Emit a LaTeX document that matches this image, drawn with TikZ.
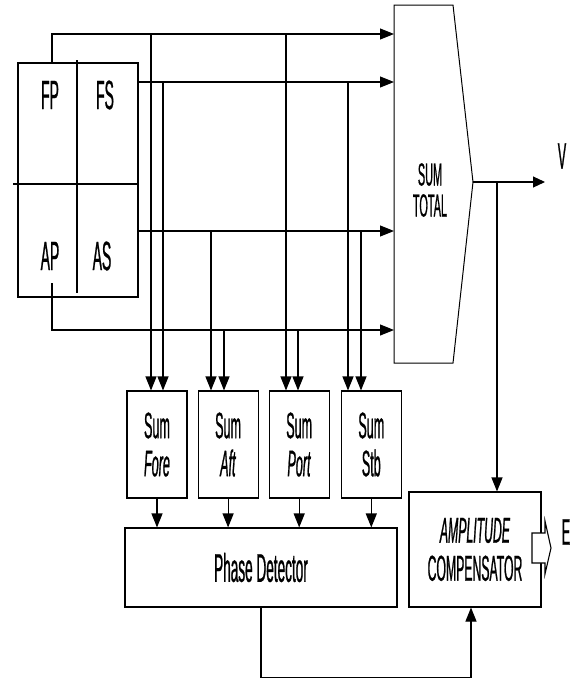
\documentclass[tikz,border=0pt]{standalone}
\usepackage{fontspec}
\setmainfont{Liberation Sans}[FakeStretch=0.34,FakeBold=0.6]
\usetikzlibrary{arrows.meta,positioning,calc}
\tikzset{
  wire/.style={line width=1.1pt},
  feed/.style={wire,-{Triangle[length=14pt,width=11pt]}},
  blk/.style={draw,line width=1.1pt,inner sep=0pt,align=center},
  sumbox/.style={blk,minimum width=60,minimum height=107,font=\fontsize{37}{38}\selectfont},
  quadlbl/.style={inner sep=0pt,font=\fontsize{41}{42}\selectfont},
}
\begin{document}
\begin{tikzpicture}[x=1pt,y=-1pt]
\useasboundingbox (0,0) rectangle (572,680);

% hydrophone quadrants
\node[blk,minimum width=120,minimum height=234] (quad) at (78,180) {};
\draw[wire] (77,60) -- (77,293);
\draw[wire] (13,184) -- (quad.east |- 0,184);
\node[quadlbl] (fp) at (50,95) {FP};
\node[quadlbl] (fs) at (105,95) {FS};
\node[quadlbl] (ap) at (50,256) {AP};
\node[quadlbl] (as) at (102,256) {AS};

% sum total
\draw[line width=1pt] (394,5) -- (453,5) -- (473,182) -- (453,363) -- (394,363) -- cycle;
\coordinate (tip) at (473,182);
\node[align=center,inner sep=0pt,font=\fontsize{32}{31}\selectfont] (sumt) at (430,190) {SUM\\TOTAL};

% busses into sum total
\coordinate (fpbus) at (394,34);
\coordinate (fsbus) at (394,82);
\coordinate (asbus) at (394,231);
\coordinate (apbus) at (394,330);
\draw[feed] (52,63) |- (fpbus);
\draw[feed] (quad.east |- fsbus) -- (fsbus);
\draw[feed] (quad.east |- asbus) -- (asbus);
\draw[feed] (52,283) |- (apbus);

% partial sums
\node[sumbox] (fore) at (157,444.5) {Sum\\\textit{Fore}};
\node[sumbox,right=10 of fore] (aft) {Sum\\\textit{Aft}};
\node[sumbox,right=10 of aft] (port) {Sum\\\textit{Port}};
\node[sumbox,right=11 of port] (stb) {Sum\\Stb};

\coordinate (j1) at (151,34);
\coordinate (j2) at (163,82);
\coordinate (j3) at (211,231);
\coordinate (j4) at (224,330);
\coordinate (j5) at (286,34);
\coordinate (j6) at (298,330);
\coordinate (j7) at (348,82);
\coordinate (j8) at (361,231);
\draw[feed] (j1) -- (j1 |- fore.north);
\draw[feed] (j2) -- (j2 |- fore.north);
\draw[feed] (j3) -- (j3 |- aft.north);
\draw[feed] (j4) -- (j4 |- aft.north);
\draw[feed] (j5) -- (j5 |- port.north);
\draw[feed] (j6) -- (j6 |- port.north);
\draw[feed] (j7) -- (j7 |- stb.north);
\draw[feed] (j8) -- (j8 |- stb.north);

% phase detector
\node[blk,minimum width=272,minimum height=79,font=\fontsize{40}{36}\selectfont] (pd) at (261,567.5) {Phase Detector};
\foreach \s in {fore,aft,port,stb}
  \draw[feed] (\s.south) -- (\s.south |- pd.north);

% amplitude compensator
\node[blk,minimum width=132,minimum height=115,font=\fontsize{36}{38}\selectfont] (ac) at (475,549.5) {\textit{AMPLITUDE}\\COMPENSATOR};
\draw[wire,fill=white] (532,533) -- (545,533) -- (545,521) -- (551,548) -- (545,574) -- (545,563) -- (532,563) -- cycle;
\node[inner sep=0pt,font=\fontsize{37}{36}\selectfont] (e) at (566,532) {E};

% output and feedback
\coordinate (vout) at (545,182);
\draw[wire,-{Triangle[length=12pt,width=11pt]}] (tip) -- (vout);
\node[inner sep=0pt,font=\fontsize{37}{36}\selectfont] (v) at (562,156) {V};
\coordinate (vdrop) at (497,182);
\draw[feed] (vdrop) -- (vdrop |- ac.north);
\draw[feed] (pd.south) -- ++(0,70) -| ($(ac.south)+(-4,0)$);
\end{tikzpicture}
\end{document}
